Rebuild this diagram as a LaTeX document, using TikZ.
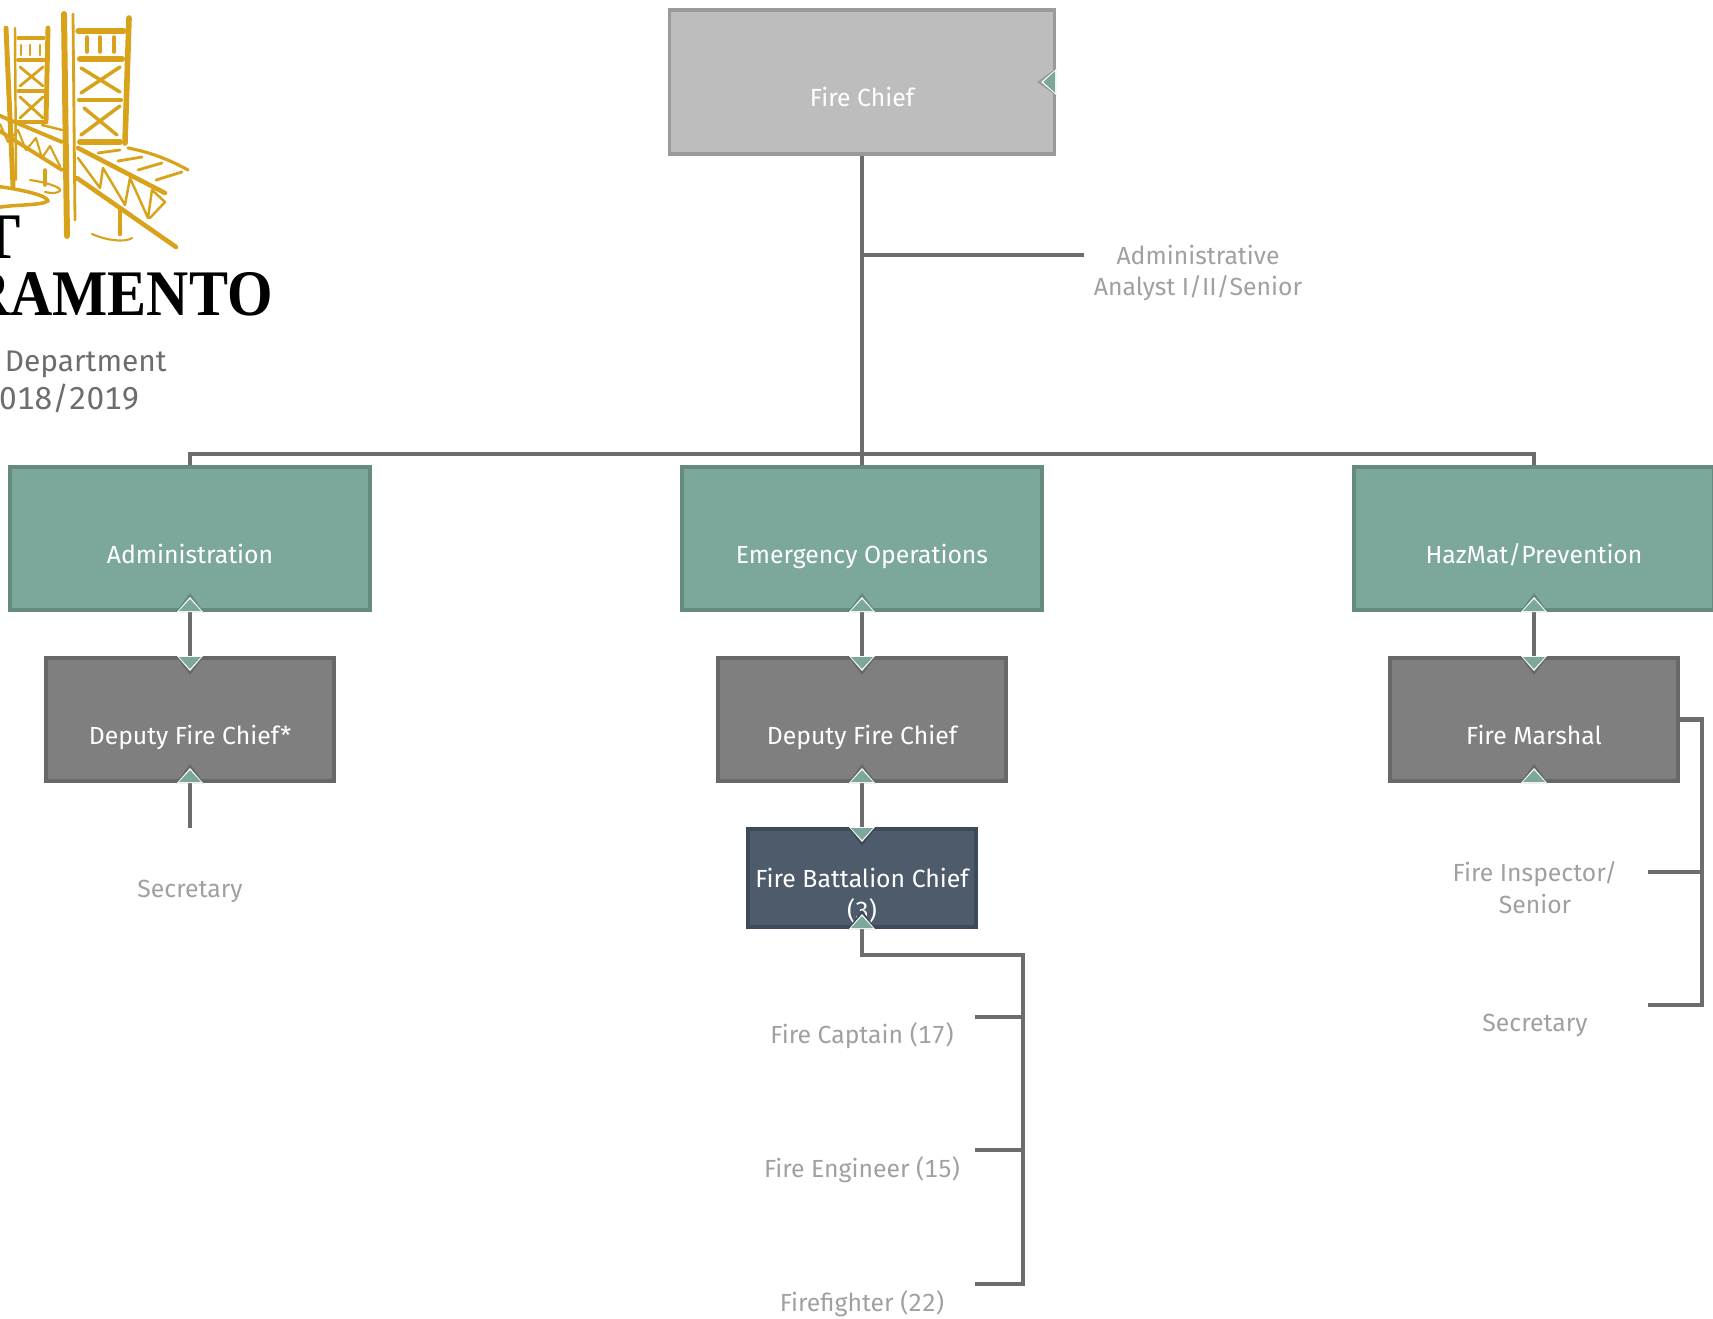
\documentclass[tikz,border=0pt]{standalone}
\usepackage{fontspec}
\setmainfont{Fira Sans}[Numbers={Monospaced,Lining}]
\newfontfamily\logofont{Liberation Serif}
\usetikzlibrary{positioning}

\definecolor{chieffill}{HTML}{BDBDBD}
\definecolor{chiefline}{HTML}{9A9A9A}
\definecolor{greenfill}{HTML}{7CA79B}
\definecolor{greenline}{HTML}{668A80}
\definecolor{grayfill}{HTML}{7F7F7F}
\definecolor{grayline}{HTML}{686868}
\definecolor{navyfill}{HTML}{4E5B6B}
\definecolor{navyline}{HTML}{3E4A58}
\definecolor{connline}{HTML}{6D6D6D}
\definecolor{stafftext}{HTML}{A0A0A0}
\definecolor{golden}{HTML}{D9A21B}

\tikzset{
	orgbox/.style={draw, line width=2pt, text=white, inner sep=0pt, font=\fontsize{14.1}{18.1}\selectfont, text height=1cm, text depth=0pt},
	chiefbox/.style={orgbox, fill=chieffill, draw=chiefline, minimum width=7.7cm, minimum height=2.89cm},
	greenbox/.style={orgbox, fill=greenfill, draw=greenline, minimum width=7.21cm, minimum height=2.87cm},
	graybox/.style={orgbox, fill=grayfill, draw=grayline, minimum width=5.77cm, minimum height=2.47cm},
	navybox/.style={orgbox, fill=navyfill, draw=navyline, minimum width=4.57cm, minimum height=1.97cm, align=center, text height=1.64cm},
	staff/.style={text=stafftext, inner sep=0pt, font=\fontsize{14.1}{18.1}\selectfont, align=center},
	conn/.style={draw=connline, line width=2.4pt},
	gold/.style={draw=golden, line cap=round, line join=round},
	pics/notch/.style={code={
		\fill[#1] (-14,0) -- (0,19) -- (14,0) -- cycle;
		\fill[white] (-13,0) -- (0,15) -- (13,0) -- cycle;
		\fill[greenfill] (-11,1) -- (0,13) -- (11,1) -- cycle;
	}}
}

\begin{document}
\begin{tikzpicture}[x=.02cm,y=-.02cm]
	\useasboundingbox (0,0) rectangle (1713,1318);

	% logo
	\draw[gold, line width=3.4pt] (64,14) -- (67,236);
	\draw[gold, line width=1.6pt] (73,14) -- (75,220);
	\draw[gold, line width=3.2pt] (129,18) -- (125,143);
	\draw[gold, line width=3pt] (78,31) -- (124,31);
	\draw[gold, line width=3.6pt] (80,59) -- (122,59);
	\draw[gold, line width=2.4pt] (79,100) -- (121,100);
	\draw[gold, line width=3.4pt] (80,142) -- (120,142);
	\foreach \tx in {87,100,114}
		\draw[gold, line width=2pt] (\tx,37) -- (\tx,52);
	\draw[gold, line width=2pt] (81,93) -- (120,67) (81,68) -- (120,92);
	\draw[gold, line width=2pt] (81,135) -- (120,106) (84,108) -- (117,135);
	\draw[gold, line width=2.6pt] (78,148) -- (165,193);
	\draw[gold, line width=2.6pt] (77,178) -- (176,247);
	\draw[gold, line width=1.8pt] (128,148) .. controls (150,152) and (170,160) .. (188,170);
	\draw[gold, line width=1.6pt] (98,153) -- (120,150) (118,161) -- (142,157) (138,170) -- (162,163) (156,180) -- (182,172);
	\draw[gold, line width=1.4pt] (78,158) -- (100,188) -- (103,168) -- (125,205) -- (130,178) -- (148,218) -- (152,190) -- (165,202) -- (150,218);
	\draw[gold, line width=2.6pt] (120,210) -- (120,234);
	\draw[gold, line width=1.2pt] (92,234) .. controls (105,240) and (125,243) .. (132,238);
	\draw[gold, line width=2.8pt] (6,28) -- (13,186);
	\draw[gold, line width=1.4pt] (15,28) -- (16,180);
	\draw[gold, line width=2.8pt] (48,28) -- (46,122);
	\draw[gold, line width=1.8pt] (18,38) -- (44,38) (18,91) -- (44,91);
	\draw[gold, line width=2.2pt] (18,60) -- (44,60) (18,122) -- (44,122);
	\foreach \tx in {21,30,40}
		\draw[gold, line width=1.4pt] (\tx,45) -- (\tx,55);
	\draw[gold, line width=1.6pt] (20,67) -- (43,86) (20,86) -- (43,67) (20,97) -- (43,118) (20,118) -- (43,97);
	\draw[gold, line width=2.2pt] (-2,115) -- (62,142) (-2,130) -- (62,170);
	\draw[gold, line width=1.4pt] (42,125) -- (62,130);
	\draw[gold, line width=1.2pt] (0,124) -- (8,142) -- (18,130) -- (26,150) -- (36,138) -- (42,158) -- (50,146) -- (60,166);
	\draw[gold, line width=2pt] (45,170) -- (45,185);
	\draw[gold, line width=1.2pt] (30,180) .. controls (50,183) and (62,188) .. (60,191) .. controls (56,194) and (50,193) .. (45,192);
	\draw[gold, line width=2pt] (-5,186) .. controls (25,190) and (48,196) .. (48,201) .. controls (40,206) and (15,204) .. (-5,208);

	\node[anchor=base east, inner sep=0pt, text=black, font=\logofont\bfseries\fontsize{37}{37}\selectfont] (logotop) at (21,258) {T};
	\node[anchor=base east, inner sep=0pt, text=black, font=\logofont\bfseries\fontsize{37}{37}\selectfont] (logoname) at (273,315) {\scalebox{.9}[1]{RAMENTO}};
	\node[anchor=base east, inner sep=0pt, text=connline, font=\fontsize{17}{17}\selectfont] (dept) at (167,371) {Department};
	\node[anchor=base east, inner sep=0pt, text=connline, font=\fontsize{18}{18}\selectfont] (year) at (140,409) {018/2019};

	% boxes
	\node[chiefbox] (chief) at (862,82) {Fire Chief};
	\node[greenbox] (admin) at (190,538.5) {Administration};
	\node[greenbox] (emergency) at (862,538.5) {Emergency Operations};
	\node[greenbox] (hazmat) at (1534,538.5) {HazMat/Prevention};
	\node[graybox] (deputya) at (190,719.5) {Deputy Fire Chief*};
	\node[graybox] (deputyb) at (862,719.5) {Deputy Fire Chief};
	\node[graybox] (marshal) at (1534,719.5) {Fire Marshal};
	\node[navybox] (battalion) at (862,878) {Fire Battalion Chief\\(3)};

	% staff
	\node[staff] (analyst) at (1198,273) {Administrative\\Analyst I/II/Senior};
	\node[staff] (secretarya) at (190,891) {Secretary};
	\node[staff] (captain) at (862,1036) {Fire Captain (17)};
	\node[staff] (engineer) at (862,1170) {Fire Engineer (15)};
	\node[staff] (firefighter) at (862,1304) {Firefighter (22)};
	\node[staff] (inspector) at (1535,888) {Fire Inspector/\\Senior};
	\node[staff] (secretaryb) at (1535,1025) {Secretary};

	\coordinate (analystend) at (1084,255);
	\coordinate (secretaryaend) at (190,828);
	\coordinate (captainend) at (975,1017);
	\coordinate (engineerend) at (975,1150);
	\coordinate (fighterend) at (975,1284);
	\coordinate (inspectorend) at (1648,872);
	\coordinate (secretarybend) at (1648,1005);

	% connectors
	\draw[conn] (chief.south) -- (emergency.north);
	\draw[conn] (chief.south |- analystend) -- (analystend);
	\draw[conn] (admin.north) -- ++(0,-11) -| (hazmat.north);
	\draw[conn] (admin.south) -- (deputya.north);
	\draw[conn] (emergency.south) -- (deputyb.north);
	\draw[conn] (hazmat.south) -- (marshal.north);
	\draw[conn] (deputya.south) -- (secretaryaend);
	\draw[conn] (deputyb.south) -- (battalion.north);
	\draw[conn] (battalion.south) -- ++(0,26) -| (1023,1150) -- (1023,1284) -- (fighterend);
	\draw[conn] (captainend) -- (1023,1017);
	\draw[conn] (engineerend) -- (1023,1150);
	\draw[conn] (marshal.east) -- ++(22,0) |- (secretarybend);
	\draw[conn] (inspectorend) -- (1702,872);

	% notches
	\pic[rotate=-90] at (chief.east) {notch=chiefline};
	\pic[rotate=180] at (admin.south) {notch=greenline};
	\pic[rotate=180] at (emergency.south) {notch=greenline};
	\pic[rotate=180] at (hazmat.south) {notch=greenline};
	\pic at (deputya.north) {notch=grayline};
	\pic at (deputyb.north) {notch=grayline};
	\pic at (marshal.north) {notch=grayline};
	\pic[rotate=180] at (deputya.south) {notch=grayline};
	\pic[rotate=180] at (deputyb.south) {notch=grayline};
	\pic[rotate=180] at (marshal.south) {notch=grayline};
	\pic at (battalion.north) {notch=navyline};
	\pic[rotate=180] at (battalion.south) {notch=navyline};
\end{tikzpicture}
\end{document}
